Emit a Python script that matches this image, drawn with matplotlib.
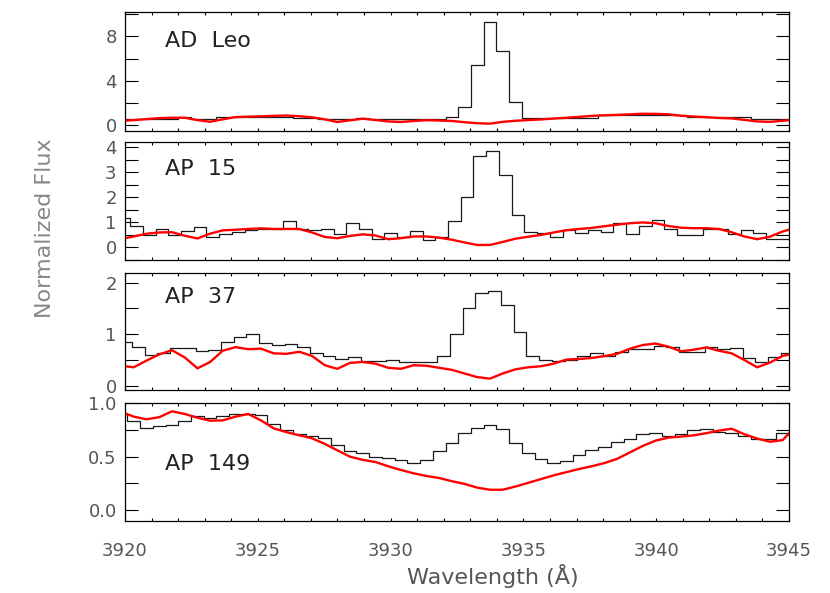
import numpy as np
import matplotlib
matplotlib.use('Agg')
import matplotlib.pyplot as plt
from matplotlib.ticker import MultipleLocator, FixedLocator

# bin centres of the spectra (Angstrom)
wave = np.array([3919.85, 3920.33, 3920.81, 3921.29, 3921.77, 3922.25, 3922.73, 3923.20, 3923.68,
                 3924.16, 3924.64, 3925.12, 3925.60, 3926.08, 3926.56, 3927.04, 3927.52, 3927.99,
                 3928.47, 3928.95, 3929.43, 3929.91, 3930.39, 3930.87, 3931.35, 3931.83, 3932.31,
                 3932.78, 3933.26, 3933.74, 3934.22, 3934.70, 3935.18, 3935.66, 3936.14, 3936.62,
                 3937.10, 3937.57, 3938.05, 3938.53, 3939.01, 3939.49, 3939.97, 3940.45, 3940.93,
                 3941.41, 3941.89, 3942.36, 3942.84, 3943.32, 3943.80, 3944.28, 3944.76, 3945.24])

stars = ['AD Leo', 'AP 15', 'AP 37', 'AP 149']
shifts = [0.0, 0.10, 0.17, 0.0]

flux_adleo = [0.60, 0.60, 0.60, 0.60, 0.60, 0.75, 0.60, 0.60, 0.75, 0.75,
              0.75, 0.75, 0.75, 0.75, 0.70, 0.70, 0.60, 0.55, 0.55, 0.65,
              0.60, 0.55, 0.55, 0.60, 0.60, 0.60, 0.75, 1.65, 5.40, 9.34,
              6.70, 2.10, 0.63, 0.63, 0.63, 0.63, 0.63, 0.63, 0.90, 0.90,
              0.90, 0.90, 0.90, 0.90, 0.90, 0.75, 0.75, 0.75, 0.75, 0.75,
              0.55, 0.55, 0.55, 0.55]
model_adleo = [0.40, 0.48, 0.57, 0.66, 0.69, 0.69, 0.48, 0.33, 0.55, 0.75,
               0.79, 0.82, 0.86, 0.89, 0.83, 0.73, 0.55, 0.31, 0.46, 0.60,
               0.49, 0.36, 0.31, 0.40, 0.47, 0.44, 0.40, 0.29, 0.20, 0.16,
               0.32, 0.42, 0.48, 0.54, 0.62, 0.69, 0.77, 0.86, 0.91, 0.95,
               1.00, 1.05, 1.04, 1.00, 0.87, 0.80, 0.74, 0.67, 0.63, 0.50,
               0.36, 0.32, 0.42, 0.50]

flux_ap15 = [1.17, 0.84, 0.505, 0.73, 0.505, 0.665, 0.81, 0.41, 0.53, 0.60,
             0.68, 0.73, 0.73, 1.04, 0.73, 0.68, 0.73, 0.546, 0.97, 0.73,
             0.33, 0.57, 0.43, 0.65, 0.28, 0.41, 1.06, 2.03, 3.65, 3.87,
             2.90, 1.30, 0.61, 0.57, 0.41, 0.70, 0.57, 0.71, 0.61, 0.97,
             0.53, 0.86, 1.08, 0.73, 0.505, 0.505, 0.73, 0.73, 0.53, 0.70,
             0.57, 0.33, 0.33, 0.45]
model_ap15 = [0.34, 0.44, 0.55, 0.60, 0.61, 0.47, 0.36, 0.55, 0.685, 0.71,
              0.74, 0.765, 0.74, 0.74, 0.74, 0.60, 0.42, 0.37, 0.46, 0.525,
              0.48, 0.33, 0.37, 0.44, 0.44, 0.39, 0.31, 0.20, 0.10, 0.10,
              0.22, 0.35, 0.43, 0.50, 0.60, 0.69, 0.74, 0.78, 0.85, 0.91,
              0.97, 1.00, 0.97, 0.86, 0.79, 0.77, 0.77, 0.74, 0.61, 0.44,
              0.33, 0.43, 0.64, 0.78]

flux_ap37 = [0.855, 0.745, 0.60, 0.64, 0.725, 0.725, 0.673, 0.69, 0.855, 0.95,
             1.00, 0.836, 0.79, 0.82, 0.745, 0.63, 0.577, 0.52, 0.55, 0.486,
             0.486, 0.51, 0.465, 0.454, 0.454, 0.58, 0.997, 1.515, 1.794, 1.845,
             1.567, 1.037, 0.577, 0.50, 0.486, 0.51, 0.577, 0.63, 0.577, 0.66,
             0.71, 0.71, 0.77, 0.745, 0.66, 0.66, 0.745, 0.71, 0.725, 0.53,
             0.454, 0.55, 0.64, 0.64]
model_ap37 = [0.39, 0.36, 0.49, 0.61, 0.69, 0.55, 0.34, 0.46, 0.68, 0.75,
              0.71, 0.72, 0.63, 0.62, 0.66, 0.58, 0.40, 0.33, 0.445, 0.463,
              0.43, 0.35, 0.33, 0.40, 0.39, 0.35, 0.31, 0.24, 0.17, 0.14,
              0.24, 0.32, 0.36, 0.38, 0.43, 0.51, 0.52, 0.54, 0.577, 0.62,
              0.72, 0.79, 0.82, 0.76, 0.67, 0.70, 0.745, 0.68, 0.63, 0.50,
              0.36, 0.45, 0.58, 0.63]

flux_ap149 = [0.90, 0.837, 0.765, 0.79, 0.80, 0.83, 0.88, 0.86, 0.88, 0.90,
              0.90, 0.89, 0.81, 0.75, 0.71, 0.69, 0.675, 0.61, 0.55, 0.53,
              0.50, 0.485, 0.47, 0.44, 0.47, 0.55, 0.63, 0.725, 0.765, 0.797,
              0.756, 0.631, 0.537, 0.475, 0.437, 0.459, 0.515, 0.562, 0.594, 0.640,
              0.662, 0.709, 0.719, 0.697, 0.712, 0.750, 0.756, 0.728, 0.719, 0.697,
              0.662, 0.665, 0.719, 0.775]
model_ap149 = [0.92, 0.875, 0.85, 0.87, 0.925, 0.90, 0.865, 0.837, 0.84, 0.875,
               0.90, 0.84, 0.765, 0.73, 0.70, 0.672, 0.62, 0.56, 0.50, 0.47,
               0.45, 0.41, 0.375, 0.344, 0.319, 0.30, 0.27, 0.245, 0.21, 0.19,
               0.19, 0.22, 0.255, 0.29, 0.325, 0.355, 0.385, 0.41, 0.44, 0.48,
               0.54, 0.60, 0.65, 0.678, 0.688, 0.70, 0.72, 0.744, 0.762, 0.71,
               0.67, 0.64, 0.655, 0.78]

fluxes = [flux_adleo, flux_ap15, flux_ap37, flux_ap149]
models = [model_adleo, model_ap15, model_ap37, model_ap149]

ylims = [(-0.5, 10.2), (-0.5, 4.23), (-0.08, 2.19), (-0.1, 1.0)]
ymajor = [[0, 4, 8], [0, 1, 2, 3, 4], [0, 1, 2], [0.0, 0.5, 1.0]]
yminor = [2, 0.5, 0.5, 0.25]
ylabels_fmt = ['{:.0f}', '{:.0f}', '{:.0f}', '{:.1f}']
label_y = [0.76, 0.77, 0.79, 0.48]

# panel boxes in figure fractions
boxes = [[0.1506, 0.7791, 0.8, 0.2007],
         [0.1506, 0.5616, 0.8, 0.1995],
         [0.1506, 0.3423, 0.8, 0.1978],
         [0.1506, 0.1219, 0.8, 0.1980]]

fig = plt.figure(figsize=(8.3, 5.93), dpi=100)

for i in range(4):
    ax = fig.add_axes(boxes[i])
    ax.step(wave + shifts[i], fluxes[i], where='mid', color='#1a1a1a', lw=0.9)
    ax.plot(wave, models[i], color='red', lw=1.7)
    ax.set_xlim(3920, 3945)
    ax.set_ylim(ylims[i])
    ax.xaxis.set_major_locator(MultipleLocator(5))
    ax.xaxis.set_minor_locator(MultipleLocator(1))
    ax.yaxis.set_major_locator(FixedLocator(ymajor[i]))
    ax.yaxis.set_minor_locator(MultipleLocator(yminor[i]))
    ax.set_yticklabels([ylabels_fmt[i].format(v) for v in ymajor[i]])
    ax.tick_params(axis='x', which='both', direction='in', top=True, bottom=True,
                   length=2.2, width=0.8, labelsize=13, labelcolor='#555', pad=15)
    ax.tick_params(axis='y', which='both', direction='in', left=True, right=True,
                   length=9.5, width=0.8, labelsize=13, labelcolor='#555', pad=6)
    if i < 3:
        ax.tick_params(axis='x', labelbottom=False)
    for s in ax.spines.values():
        s.set_linewidth(0.9)
    ax.text(0.06, label_y[i], stars[i].replace(' ', '  '), transform=ax.transAxes,
            fontsize=16, color='#222', va='center', ha='left')

fig.text(0.054, 0.615, 'Normalized Flux', rotation=90, fontsize=16, color='#888',
         ha='center', va='center')
fig.text(0.594, 0.029, 'Wavelength (Å)', fontsize=16, color='#555',
         ha='center', va='center')

plt.savefig('out.png', dpi=100)
